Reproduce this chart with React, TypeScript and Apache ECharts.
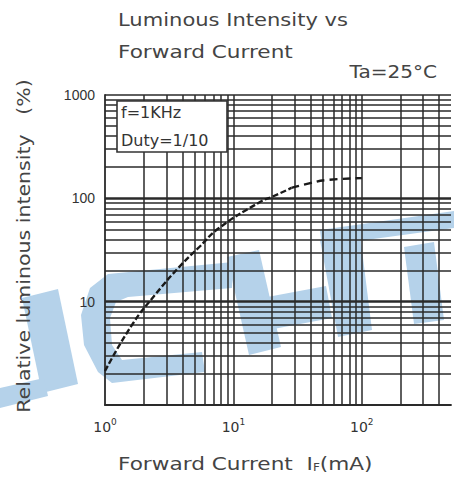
import React, { useEffect, useRef } from "react";
import * as echarts from "echarts";

// Curve (forward current mA, relative luminous intensity %)
const curveX = [1, 1.64, 2.52, 3.79, 5.42, 7.73, 16.6, 19.8, 28.3];
const curveY = [2.13, 6.08, 12.1, 21.7, 33.8, 51.6, 94.2, 103, 126];
const dashX = [28.3, 40.4, 51.8, 100];
const dashY = [126, 141, 150, 157];

// Grid line positions
const xGridLines = [2, 3, 4, 5, 6, 7, 8, 9, 10, 20, 30, 40, 50, 60, 70, 80, 90, 100, 200, 300, 400];
const yGridLines = [2, 3, 4, 5, 6, 7, 8, 9, 10, 20, 30, 40, 50, 60, 70, 80, 90, 100, 200, 300, 400, 500, 600, 700, 800, 900, 1000];
const yMajorLines = [10, 100];
const yTickLabels = ["10", "100", "1000"];

const FONT = "DejaVu Sans";
const WM = "#b5d2ea";

export default function App() {
  const bgRef = useRef<HTMLDivElement>(null);
  const ref = useRef<HTMLDivElement>(null);
  useEffect(() => {
    if (!ref.current || !bgRef.current) return;
    // Watermark layer (underneath)
    const wmPolys = [
      [[22, 298], [58, 289], [78, 384], [42, 393]],
      [[0, 388], [44, 378], [48, 396], [0, 408]],
      [[233, 262], [108, 274], [90, 288], [81, 315], [84, 345], [98, 372], [112, 383], [205, 372], [202, 352], [122, 360], [112, 345], [110, 318], [116, 302], [128, 297], [232, 288]],
      [[227, 257], [259, 250], [281, 347], [249, 355]],
      [[262, 298], [326, 286], [332, 318], [268, 330]],
      [[320, 240], [360, 234], [372, 330], [338, 337]],
      [[320, 230], [454, 211], [454, 228], [322, 246]],
      [[404, 247], [434, 242], [444, 320], [414, 324]],
    ];
    const bg = echarts.init(bgRef.current, null, { renderer: "svg" });
    bg.setOption({
      animation: false,
      backgroundColor: "#fff",
      graphic: wmPolys.map((pts) => ({
        type: "polygon",
        silent: true,
        shape: { points: pts },
        style: { fill: WM },
      })),
    });

    const chart = echarts.init(ref.current, null, { renderer: "svg" });
    const gridLineData: any[] = [];
    xGridLines.forEach((v) => gridLineData.push({ xAxis: v }));
    yGridLines.forEach((v) =>
      gridLineData.push({
        yAxis: v,
        lineStyle: { width: yMajorLines.includes(v) ? 2.6 : 1.5 },
      })
    );
    const txt = (text: string, x: number, y: number, size: number, extra: any = {}) => ({
      type: "text",
      z: 11,
      x,
      y,
      ...extra,
      style: { text, font: `${size}px ${FONT}`, fill: "#444", textVerticalAlign: "middle", ...(extra.style || {}) },
    });
    chart.setOption({
      animation: false,
      backgroundColor: "transparent",
      grid: { left: 105, right: 0, top: 95, bottom: 76 },
      xAxis: {
        type: "log",
        logBase: 10,
        min: 1,
        max: 495,
        z: 3,
        axisLine: { show: true, lineStyle: { color: "#2a2a2a", width: 1.8 } },
        axisTick: { show: false },
        splitLine: { show: false },
        axisLabel: {
          margin: 12,
          color: "#333",
          fontFamily: FONT,
          fontSize: 14,
          formatter: (v: number) => {
            const e = Math.log10(v);
            if (Math.abs(e - Math.round(e)) > 1e-6) return "";
            return "10{s|" + Math.round(e) + "}";
          },
          rich: { s: { fontSize: 9, fontFamily: FONT, color: "#333", padding: [0, 0, 10, 0] } },
        },
      },
      yAxis: {
        type: "log",
        logBase: 10,
        min: 1,
        max: 1000,
        z: 3,
        axisLine: { show: true, lineStyle: { color: "#2a2a2a", width: 1.8 } },
        axisTick: { show: false },
        splitLine: { show: false },
        axisLabel: {
          margin: 10,
          color: "#333",
          fontFamily: "Liberation Sans",
          fontSize: 14,
          formatter: (v: number) => {
            const s = String(Math.round(v));
            return yTickLabels.includes(s) ? s : "";
          },
        },
      },
      graphic: [
        {
          type: "rect",
          z: 10,
          shape: { x: 117, y: 101, width: 110, height: 51 },
          style: { fill: "#fff", stroke: "#333", lineWidth: 1.6 },
        },
        txt("f=1KHz", 121, 112, 16, { style: { fill: "#333" } }),
        txt("Duty=1/10", 121, 140, 16, { style: { fill: "#333" } }),
        txt("Luminous Intensity vs", 118, 20, 18, { scaleX: 1.17 }),
        txt("Forward Current", 118, 52, 18, { scaleX: 1.2 }),
        txt("Ta=25°C", 437, 72, 17, { scaleX: 1.18, style: { textAlign: "right" } }),
        txt("Forward Current  I{sub|F}(mA)", 118, 464, 18, {
          scaleX: 1.2,
          style: {
            textAlign: "left",
            rich: { sub: { fontSize: 10, fontFamily: FONT, fill: "#444", padding: [8, 0, 0, 0] } },
          },
        }),
        txt("Relative luminous intensity   (%)", 24, 246, 18, {
          rotation: Math.PI / 2,
          scaleX: 1.14,
          style: { textAlign: "center" },
        }),
      ],
      series: [
        {
          type: "line",
          z: 2,
          data: [],
          silent: true,
          markLine: {
            silent: true,
            symbol: ["none", "none"],
            label: { show: false },
            lineStyle: { type: "solid", color: "#2a2a2a", width: 1.5 },
            data: gridLineData,
          },
        },
        {
          type: "line",
          z: 6,
          showSymbol: false,
          smooth: true,
          data: curveX.map((x, i) => [x, curveY[i]]),
          lineStyle: { color: "#1a1a1a", width: 2.4, type: [6, 2.5] },
        },
        {
          type: "line",
          z: 6,
          showSymbol: false,
          smooth: true,
          data: dashX.map((x, i) => [x, dashY[i]]),
          lineStyle: { color: "#1a1a1a", width: 2.4, type: [8, 5] },
        },
      ],
    });
    return () => {
      chart.dispose();
      bg.dispose();
    };
  }, []);
  const box = { position: "absolute" as const, left: 0, top: 0, width: 454, height: 481 };
  return (
    <div style={{ position: "fixed", left: 0, top: 0, width: 454, height: 481 }}>
      <div ref={bgRef} style={box} />
      <div ref={ref} style={box} />
    </div>
  );
}
